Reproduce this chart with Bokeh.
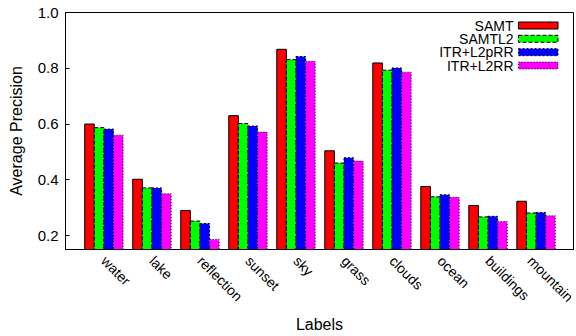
import math
import numpy as np
from bokeh.plotting import figure
from bokeh.models import Range1d, FixedTicker, Label, BoxAnnotation
from bokeh.embed import file_html
from bokeh.resources import INLINE

categories = ["water", "lake", "reflection", "sunset", "sky", "grass", "clouds", "ocean", "buildings", "mountain"]
series_names = ["SAMT", "SAMTL2", "ITR+L2pRR", "ITR+L2RR"]
samt     = [0.600, 0.402, 0.290, 0.630, 0.868, 0.504, 0.819, 0.376, 0.308, 0.323]
samtl2   = [0.587, 0.371, 0.252, 0.602, 0.831, 0.460, 0.793, 0.339, 0.267, 0.281]
itr_l2prr = [0.582, 0.371, 0.243, 0.593, 0.842, 0.479, 0.801, 0.346, 0.269, 0.283]
itr_l2rr = [0.560, 0.350, 0.186, 0.571, 0.825, 0.467, 0.786, 0.337, 0.250, 0.271]
y_ticks = [0.2, 0.4, 0.6, 0.8, 1.0]

series = [samt, samtl2, itr_l2prr, itr_l2rr]
colors = ["#ff0000", "#00ff00", "#0000ff", "#ff00ff"]
dashes = ["solid", "4 2", "2 2", "1 2"]
FONT = "Liberation Sans"

W, H = 576, 336
fl, fr, ft, fb = 65.0, 573.0, 12.0, 249.0
x0, x1 = -0.8, 9.78
y0, y1 = 0.15, 1.0

p = figure(width=W, height=H, output_backend="svg", toolbar_location=None,
           x_range=Range1d(x0, x1), y_range=Range1d(y0, y1),
           min_border_left=int(fl), min_border_right=int(W - fr), min_border_top=int(ft),
           min_border_bottom=int(H - fb))
p.grid.visible = False
p.outline_line_color = "black"
p.outline_line_alpha = 1.0
p.outline_line_width = 1
p.background_fill_color = "white"
p.border_fill_color = "white"

x = np.arange(len(categories))
bw = 0.2
offsets = [-0.3, -0.1, 0.1, 0.3]
for vals, c, d, off in zip(series, colors, dashes, offsets):
    p.vbar(x=x + off, top=vals, bottom=0, width=bw, fill_color=c,
           line_color="black", line_width=1, line_dash=d)

# axes
p.yaxis.ticker = FixedTicker(ticks=y_ticks)
p.yaxis.major_label_overrides = {t: f"{t:.1f}" for t in y_ticks}
p.yaxis.major_tick_in = 4
p.yaxis.major_tick_out = 0
p.yaxis.minor_tick_line_color = None
p.yaxis.axis_line_color = "black"
p.yaxis.major_label_text_font = FONT
p.yaxis.major_label_text_font_size = "15px"
p.yaxis.major_label_text_color = "black"
p.yaxis.major_label_standoff = 7
p.yaxis.axis_label = "Average Precision"
p.yaxis.axis_label_text_font = FONT
p.yaxis.axis_label_text_font_size = "16px"
p.yaxis.axis_label_text_font_style = "normal"
p.yaxis.axis_label_text_color = "black"
p.yaxis.axis_label_standoff = 10

p.xaxis.ticker = FixedTicker(ticks=list(range(len(categories))))
p.xaxis.major_label_overrides = {i: c for i, c in enumerate(categories)}
p.xaxis.major_tick_line_color = None
p.xaxis.minor_tick_line_color = None
p.xaxis.axis_line_color = "black"
p.xaxis.major_label_orientation = -math.pi / 4
p.xaxis.major_label_text_font = FONT
p.xaxis.major_label_text_font_size = "14px"
p.xaxis.major_label_text_color = "black"
p.xaxis.major_label_standoff = 3
p.xaxis.axis_label = "Labels"
p.xaxis.axis_label_text_font = FONT
p.xaxis.axis_label_text_font_size = "16px"
p.xaxis.axis_label_text_font_style = "normal"
p.xaxis.axis_label_text_color = "black"
p.xaxis.axis_label_standoff = 2

def px_x(px):
    return x0 + (px - fl) / (fr - fl) * (x1 - x0)
def px_y(py):
    return y1 - (py - ft) / (fb - ft) * (y1 - y0)

# legend (text left, swatch right)
row_y = [25.0, 38.3, 51.7, 65.0]
for name, c, d, ry in zip(series_names, colors, dashes, row_y):
    p.add_layout(Label(x=px_x(513), y=px_y(ry), text=name, text_align="right",
                       text_baseline="middle", text_font=FONT, text_font_size="14px",
                       text_color="black"))
    p.add_layout(BoxAnnotation(left=px_x(518), right=px_x(557.5),
                               top=px_y(ry - 3.5), bottom=px_y(ry + 3.5),
                               fill_color=c, fill_alpha=1.0, line_color="black",
                               line_alpha=1.0, line_width=1, line_dash=d))

open("out.html", "w").write(file_html(p, INLINE))
